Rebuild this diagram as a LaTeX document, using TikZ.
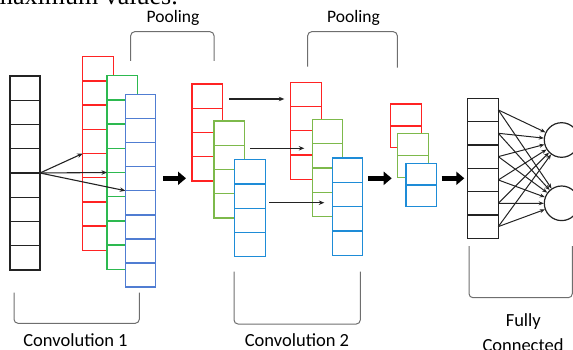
\documentclass[tikz,border=0pt]{standalone}
\usepackage{fontspec}
\setmainfont{Carlito}
\newfontfamily\serifface{Liberation Serif}
\usetikzlibrary{arrows.meta}

\definecolor{fmred}{RGB}{255,35,35}
\definecolor{fmgreenA}{RGB}{45,185,80}
\definecolor{fmgreenB}{RGB}{125,185,75}
\definecolor{fmblueA}{RGB}{80,125,210}
\definecolor{fmblueB}{RGB}{30,140,215}
\definecolor{fmink}{RGB}{35,35,35}
\definecolor{brk}{RGB}{110,110,110}

\tikzset{
  cell/.style={fill=white, line width=1.4pt, inner sep=0pt, outer sep=0pt},
  thin arrow/.style={line width=1.1pt, fmink, -{Stealth[length=5.5pt,width=4.5pt]}},
  fat arrow/.style={line width=5pt, black, -{Triangle[length=8pt,width=13pt]}},
  neuron/.style={circle, draw=fmink, line width=1.2pt, minimum size=34.6pt, inner sep=0pt, fill=white},
  bracket/.style={brk, line width=1pt, rounded corners=4pt},
  lbl/.style={font=\fontsize{17.5}{20}\selectfont, anchor=base, inner sep=0pt}
}

% one column of feature-map cells: name, x, y, width, height, count, colour
\newcommand\fmapcol[7]{%
  \foreach \k in {1,...,#6}{%
    \node[cell, draw=#7, minimum width=#4pt, minimum height=#5pt, anchor=north west]
      (#1-\k) at (#2, {#3+(\k-1)*#5}) {};
  }%
}

\begin{document}
\begin{tikzpicture}[x=1pt, y=-1pt]
\useasboundingbox (0,0) rectangle (573,350);
\clip (0,0) rectangle (573,350);

% caption line running above the figure
\node[font=\serifface\fontsize{26}{30}\selectfont, anchor=base east, inner sep=0pt] (cap) at (178,5) {maximum values.};

% input column
\fmapcol{inp}{10}{76}{30}{24.25}{8}{fmink}

% first convolution
\fmapcol{ca}{82.7}{56.7}{30.6}{24.2}{8}{fmred}
\fmapcol{cb}{107}{75.7}{30.3}{24.2}{8}{fmgreenA}
\fmapcol{cc}{125.3}{94.3}{30.4}{24.1}{8}{fmblueA}

\draw[thin arrow] (inp-4.south east) -- (ca-4.south west);
\draw[thin arrow] (inp-4.south east) -- (cb-4.south west);
\draw[thin arrow] (inp-4.south east) -- (cc-4.south west);

% first pooling
\fmapcol{pa}{192}{84}{30.7}{24.25}{4}{fmred}
\fmapcol{pb}{214}{121}{30.3}{24.25}{4}{fmgreenB}
\fmapcol{pc}{234.7}{159.7}{30.6}{24.25}{4}{fmblueB}

% second convolution
\fmapcol{da}{290.3}{82.3}{31}{24.25}{4}{fmred}
\fmapcol{db}{312.3}{119.3}{30.4}{24.35}{4}{fmgreenB}
\fmapcol{dc}{332.3}{158}{30.4}{24.3}{4}{fmblueB}

% map-to-map arrows of the second convolution
\coordinate (ta) at ([shift={(6.5,15)}]pa-1.north east);
\coordinate (tb) at ([shift={(6,27.3)}]pb-1.north east);
\coordinate (tc) at ([shift={(4,43)}]pc-1.north east);
\coordinate (ha) at ([xshift=-6]da-1.west |- ta);
\coordinate (hb) at ([xshift=-8]db-1.west |- tb);
\coordinate (hc) at ([xshift=-8]dc-1.west |- tc);
\draw[thin arrow] (ta) -- (ha);
\draw[thin arrow] (tb) -- (hb);
\draw[thin arrow] (tc) -- (hc);

% second pooling
\fmapcol{qa}{390.7}{104}{31}{21.85}{2}{fmred}
\fmapcol{qb}{397.7}{133.3}{30.6}{22}{2}{fmgreenB}
\fmapcol{qc}{406}{163.3}{30.7}{21.7}{2}{fmblueB}

% flattened vector and output neurons
\fmapcol{fc}{467.7}{98.3}{30.6}{23.33}{6}{fmink}
\node[neuron] (o1) at (561.6,140) {};
\node[neuron] (o2) at (561.6,203.3) {};
\foreach \k in {1,...,6}{
  \draw[thin arrow, line width=1pt, -{Stealth[length=5pt,width=4pt]}] (fc-\k.east) -- (o1);
  \draw[thin arrow, line width=1pt, -{Stealth[length=5pt,width=4pt]}] (fc-\k.east) -- (o2);
}

% thick arrows between stages
\coordinate (s1) at (163,178.3);   \coordinate (e1) at (186,178.3);
\coordinate (s2) at (368.3,178.3); \coordinate (e2) at (391.7,178.3);
\coordinate (s3) at (441.7,178.3); \coordinate (e3) at (464.3,178.3);
\draw[fat arrow] (s1) -- (e1);
\draw[fat arrow] (s2) -- (e2);
\draw[fat arrow] (s3) -- (e3);

% brackets with their labels
\draw[bracket] (130.7,61) -- (130.7,31.7) -- (214,31.7) -- (214,61);
\draw[bracket] (307.7,66.7) -- (307.7,31.7) -- (397.3,31.7) -- (397.3,67.7);
\draw[bracket] (14,292.7) -- (14,323.3) -- (139.3,323.3) -- (139.3,292.7);
\draw[bracket] (234,271.7) -- (234,324) -- (360.3,324) -- (360.3,271.7);
\draw[bracket] (469,246) -- (469,297.7) -- (572.3,297.7) -- (572.3,246);

\node[lbl] (pool1) at (173,22.7) {Pooling};
\node[lbl] (pool2) at (353.5,22.7) {Pooling};
\node[lbl, font=\fontsize{18.5}{20}\selectfont] (conv1) at (75.5,346.7) {Convolution 1};
\node[lbl, font=\fontsize{18.5}{20}\selectfont] (conv2) at (297,346.7) {Convolution 2};
\node[lbl, font=\fontsize{18.5}{20}\selectfont] (fully) at (523.3,326.7) {Fully};
\node[lbl, font=\fontsize{18.5}{20}\selectfont] (conn) at (523,351) {Connected};
\end{tikzpicture}
\end{document}
